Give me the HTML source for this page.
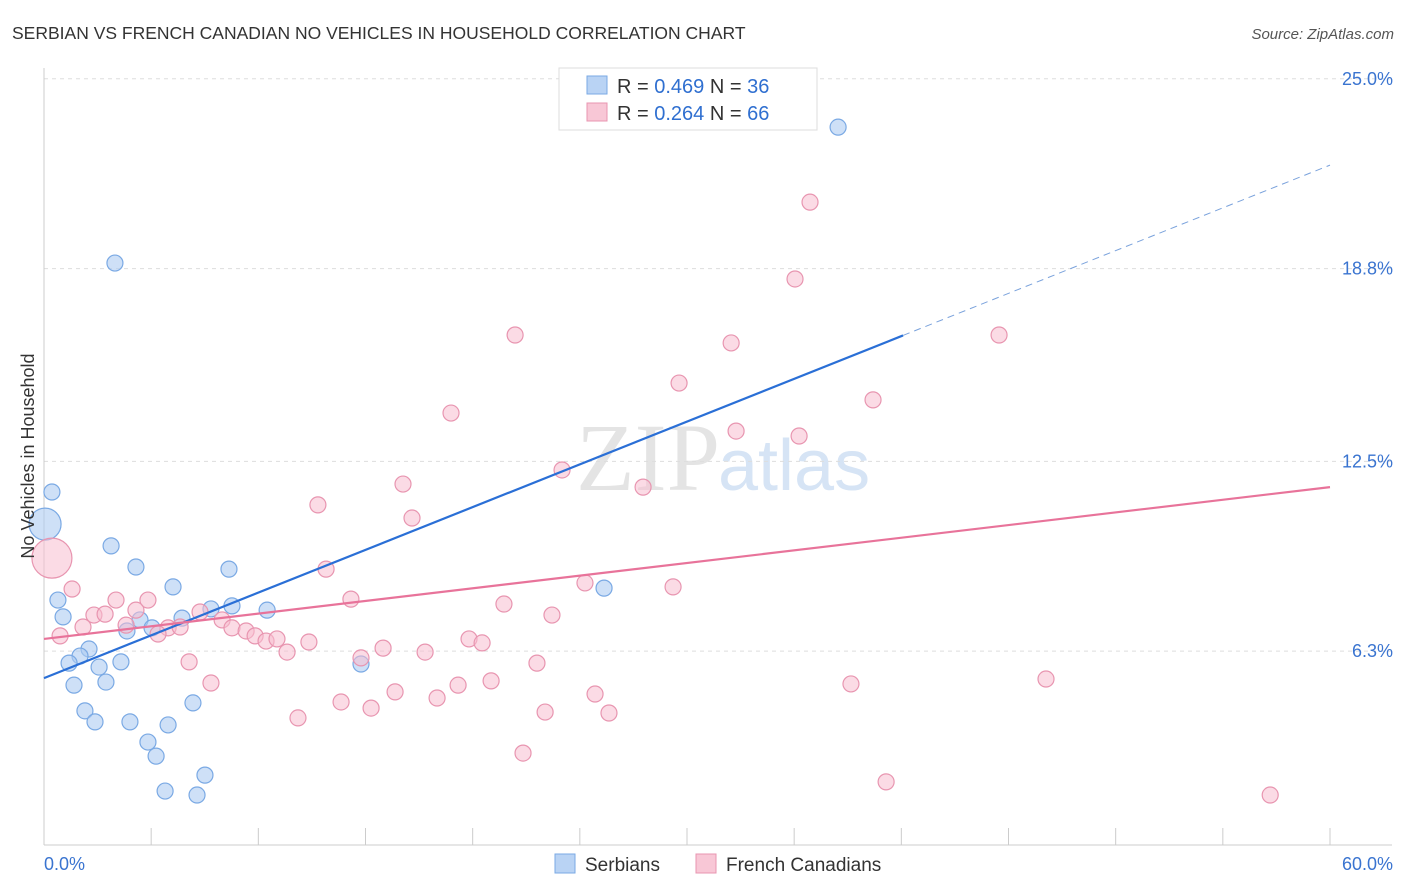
<!DOCTYPE html>
<html><head><meta charset="utf-8"><style>
body{margin:0;background:#fff;font-family:"Liberation Sans",sans-serif}
svg{display:block}
</style></head><body>
<svg id="chart" width="1406" height="892">
<text x="12" y="39" font-size="17.5" fill="#333">SERBIAN VS FRENCH CANADIAN NO VEHICLES IN HOUSEHOLD CORRELATION CHART</text>
<text x="1394" y="39" font-size="15" fill="#555" font-style="italic" text-anchor="end">Source: ZipAtlas.com</text>
<text x="720" y="490" font-size="96" fill="#e4e4e4" text-anchor="end" font-family="Liberation Serif,serif">ZIP</text>
<text x="718" y="490" font-size="72" fill="#d6e4f5">atlas</text>
<g id="grid"></g><g id="axes"></g><g id="marks"></g>
<text x="34" y="456" font-size="18" fill="#333" text-anchor="middle" transform="rotate(-90 34 456)">No Vehicles in Household</text>
<g>
<rect x="559" y="68" width="258" height="62" fill="#fff" stroke="#ddd"/>
<rect x="587" y="76" width="20" height="18" fill="#b9d3f4" stroke="#7aa9e4"/>
<rect x="587" y="103" width="20" height="18" fill="#f8c7d6" stroke="#e895b0"/>
<text x="617" y="93" font-size="20" fill="#333">R = <tspan fill="#2f6fd0">0.469</tspan>   N = <tspan fill="#2f6fd0">36</tspan></text>
<text x="617" y="120" font-size="20" fill="#333">R = <tspan fill="#2f6fd0">0.264</tspan>   N = <tspan fill="#2f6fd0">66</tspan></text>
</g>
<g>
<rect x="555" y="854" width="20" height="19" fill="#b9d3f4" stroke="#7aa9e4"/>
<text x="585" y="871" font-size="19" fill="#333">Serbians</text>
<rect x="696" y="854" width="20" height="19" fill="#f8c7d6" stroke="#e895b0"/>
<text x="726" y="871" font-size="19" fill="#333">French Canadians</text>
</g>
</svg>
<script>
const blueX=[37.05,3.31,0.37,0.05,3.13,4.29,6.02,8.63,0.65,0.89,8.77,7.79,6.44,10.41,4.48,3.87,5.04,2.10,1.68,1.17,2.57,3.59,2.89,1.40,14.79,26.13,6.95,1.91,2.38,4.01,5.79,4.85,5.23,7.51,5.65,7.14];
const blueY=[23.42,18.98,11.50,10.45,9.74,9.05,8.40,8.98,7.97,7.42,7.78,7.68,7.38,7.64,7.32,6.96,7.06,6.37,6.14,5.91,5.78,5.95,5.29,5.19,5.88,8.36,4.61,4.35,3.99,3.99,3.89,3.33,2.87,2.25,1.73,1.60];
const blueR=[8,8,8,16,8,8,8,8,8,8,8,8,8,8,8,8,8,8,8,8,8,8,8,8,8,8,8,8,8,8,8,8,8,8,8,8];
const pinkX=[35.74,35.04,21.98,32.06,44.56,29.63,18.99,38.68,32.29,35.23,24.17,27.95,16.75,12.78,17.17,0.37,13.16,1.31,25.24,29.35,3.36,4.85,14.32,21.46,2.33,2.85,4.29,23.70,7.28,8.31,1.82,3.83,5.79,6.35,5.32,8.77,0.75,9.43,9.85,10.36,10.87,12.36,19.83,20.44,15.82,11.34,17.78,14.79,6.77,23.00,7.79,20.86,19.32,37.65,46.75,16.38,25.71,13.86,18.34,15.26,23.38,26.36,11.85,22.35,39.29,57.21];
const pinkY=[20.97,18.46,16.63,16.37,16.63,15.06,14.08,14.51,13.49,13.33,12.22,11.66,11.76,11.08,10.65,9.34,8.98,8.33,8.53,8.40,7.97,7.97,8.00,7.84,7.48,7.51,7.64,7.48,7.58,7.32,7.09,7.15,7.06,7.09,6.86,7.06,6.80,6.96,6.80,6.63,6.70,6.60,6.70,6.57,6.40,6.27,6.27,6.08,5.95,5.91,5.26,5.33,5.19,5.23,5.39,4.97,4.90,4.64,4.77,4.44,4.31,4.28,4.12,2.97,2.03,1.60];
const yTicks=[25.0,18.8,12.5,6.3];
const yTickLabels=["25.0%","18.8%","12.5%","6.3%"];
const xTicks=[0,5,10,15,20,25,30,35,40,45,50,55,60];
const blueTrend=[5.42,22.18], blueSolidEnd=40.08;
const pinkTrend=[6.70,11.66];
const NS='http://www.w3.org/2000/svg';
const sx=v=>44+v/60*1286, sy=v=>844-v/6.25*191.3;
function mk(tag,attrs,parent){const e=document.createElementNS(NS,tag);for(const k in attrs)e.setAttribute(k,attrs[k]);document.getElementById(parent).appendChild(e);return e;}
yTicks.forEach((t,i)=>{
 const g=mk('line',{x1:44,x2:1392,y1:sy(t),y2:sy(t),stroke:'#ddd','stroke-dasharray':'4,4'},'grid');
 
 
 const l=mk('text',{x:1393,y:sy(t)+6,'font-size':18,fill:'#3a74d0','text-anchor':'end'},'grid');
 l.textContent=yTickLabels[i];
 
 
});
let a=mk('line',{x1:44,x2:44,y1:68,y2:845,stroke:'#ccc'},'axes');


a=mk('line',{x1:44,x2:1392,y1:845,y2:845,stroke:'#ccc'},'axes');


xTicks.forEach(t=>{const e=mk('line',{x1:sx(t),x2:sx(t),y1:828,y2:845,stroke:'#ccc'},'axes');
 
 });
let t=mk('text',{x:44,y:870,'font-size':18,fill:'#3a74d0'},'axes');t.textContent='0.0%';


t=mk('text',{x:1393,y:870,'font-size':18,fill:'#3a74d0','text-anchor':'end'},'axes');t.textContent='60.0%';


blueX.forEach((x,i)=>{const c=mk('circle',{cx:sx(x),cy:sy(blueY[i]),r:blueR[i],fill:'rgba(173,204,242,0.6)',stroke:'#7aa9e4','stroke-width':1.2},'marks');
 
 });
pinkX.forEach((x,i)=>{const c=mk('circle',{cx:sx(x),cy:sy(pinkY[i]),r:i===15?20:8,fill:'rgba(247,190,208,0.55)',stroke:'#e895b0','stroke-width':1.2},'marks');
 
 });
const bAt=x=>blueTrend[0]+(blueTrend[1]-blueTrend[0])*x/60;
let l=mk('line',{x1:sx(0),y1:sy(bAt(0)),x2:sx(blueSolidEnd),y2:sy(bAt(blueSolidEnd)),stroke:'#2a6fd6','stroke-width':2.2},'marks');


l=mk('line',{x1:sx(blueSolidEnd),y1:sy(bAt(blueSolidEnd)),x2:sx(60),y2:sy(bAt(60)),stroke:'#7aa2dc','stroke-width':1,'stroke-dasharray':'7,5'},'marks');


l=mk('line',{x1:sx(0),y1:sy(pinkTrend[0]),x2:sx(60),y2:sy(pinkTrend[1]),stroke:'#e8739a','stroke-width':2.2},'marks');


</script>
</body></html>
